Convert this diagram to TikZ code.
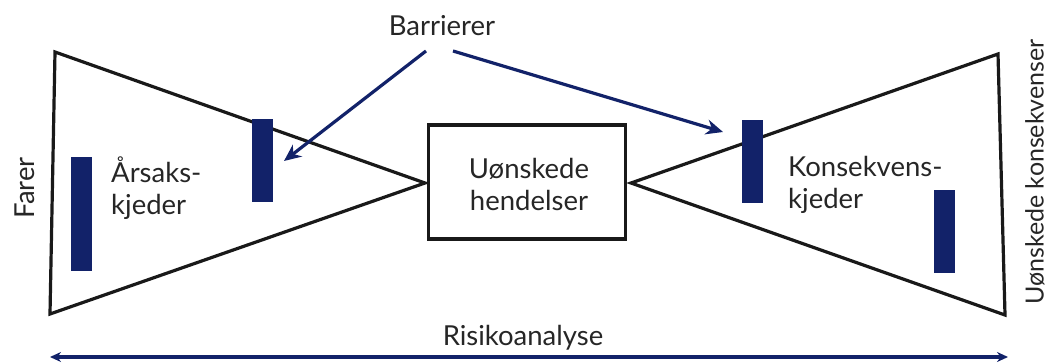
\documentclass[tikz,border=0pt]{standalone}
\usepackage{fontspec}
\setmainfont{Lato}
\usetikzlibrary{arrows.meta}
\definecolor{navy}{RGB}{18,34,105}
\begin{document}
\begin{tikzpicture}[x=1pt,y=-1pt,
  outline/.style={draw=black!90,line width=3.2pt,line join=miter},
  bar/.style={fill=navy,draw=none,inner sep=0pt,minimum width=21pt},
  lbl/.style={font=\fontsize{27.5}{32}\selectfont,inner sep=0pt,text=black!85},
  pointer/.style={draw=navy,line width=3.2pt,-{Stealth[length=17pt,width=15pt]}},
  span/.style={draw=navy,line width=3.2pt,{Stealth[length=11pt,width=10pt]}-{Stealth[length=11pt,width=10pt]}}]
\useasboundingbox (0,0) rectangle (1051,363);
% left triangle
\coordinate (lt) at (55,52);
\coordinate (lb) at (50,314);
\coordinate (la) at (425,183);
\draw[outline] (lt) -- (la) -- (lb) -- cycle;
% right triangle
\coordinate (rt) at (998,54);
\coordinate (rb) at (1005,315);
\coordinate (ra) at (631,183);
\draw[outline] (rt) -- (ra) -- (rb) -- cycle;
% box
\node[outline,minimum width=197pt,minimum height=114pt,inner sep=0pt] (box) at (527,182) {};
\node[lbl,align=center] (boxt) at (529,184) {Uønskede\\hendelser};
% bars
\node[bar,minimum height=113pt] (b1) at (81.5,214) {};
\node[bar,minimum height=83pt] (b2) at (262.5,161) {};
\node[bar,minimum height=83pt] (b3) at (752.5,161.5) {};
\node[bar,minimum height=83pt] (b4) at (944,231.5) {};
% texts
\node[lbl,align=left,anchor=west] (ars) at (111,188) {Årsaks-\\kjeder};
\node[lbl,align=left,anchor=west] (kon) at (788,185) {Konsekvens-\\kjeder};
\node[lbl,rotate=90] (farer) at (25,188) {Farer};
\node[lbl,rotate=90,font=\fontsize{25}{30}\selectfont] (uk) at (1035,172) {Uønskede konsekvenser};
\node[lbl] (barr) at (442,26) {Barrierer};
\node[lbl] (risk) at (523,338) {Risikoanalyse};
% pointers
\coordinate (p1s) at (426,51);
\coordinate (p1e) at (284,161);
\coordinate (p2s) at (453,51);
\coordinate (p2e) at (723,132);
\draw[pointer] (p1s) -- (p1e);
\draw[pointer] (p2s) -- (p2e);
% bottom span
\coordinate (sl) at (50,357);
\coordinate (sr) at (1008,357);
\draw[span] (sl) -- (sr);
\end{tikzpicture}
\end{document}
